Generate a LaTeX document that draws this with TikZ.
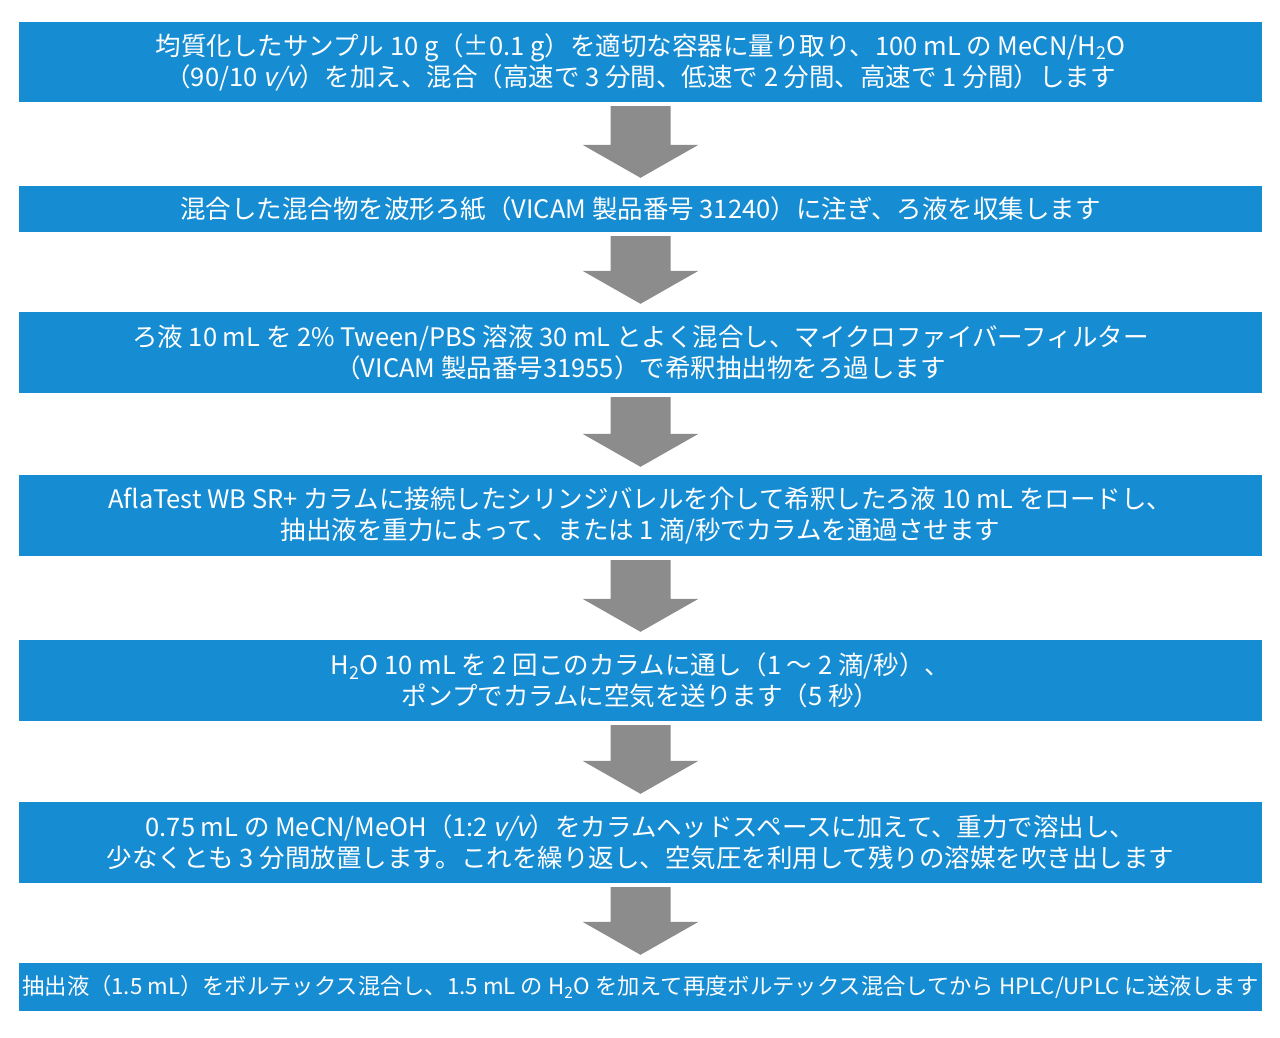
\documentclass[tikz,border=0pt]{standalone}
\usepackage{fontspec}
\setmainfont{Noto Sans CJK JP}
\newfontfamily\ital[FakeSlant=0.2]{Noto Sans CJK JP}
\usetikzlibrary{calc}
\definecolor{boxblue}{RGB}{22,140,210}
\definecolor{arrgray}{RGB}{140,140,140}
\tikzset{
  stepbox/.style={fill=boxblue,text=white,minimum width=1243pt,inner sep=0pt,align=center,font=\fontsize{25.5pt}{31pt}\selectfont},
  grayarrow/.style={fill=arrgray}
}
\newcommand{\vv}{{\ital v/v}}
\newcommand{\arr}[2]{\path[grayarrow] ($(#1.south)+(-30pt,-4pt)$) -- ($(#1.south)+(30pt,-4pt)$) -- ($(#2.north)+(30pt,41pt)$) -- ($(#2.north)+(58pt,41pt)$) -- ($(#2.north)+(0pt,8pt)$) -- ($(#2.north)+(-58pt,41pt)$) -- ($(#2.north)+(-30pt,41pt)$) -- cycle;}
\begin{document}
\begin{tikzpicture}[x=1pt,y=1pt]
\useasboundingbox[fill=white] (0,0) rectangle (1280,-1038);
\node[stepbox,minimum height=80pt] (b1) at (640.5,-62) {均質化したサンプル 10 g（±0.1 g）を適切な容器に量り取り、100 mL の MeCN/H\textsubscript{2}O\\（90/10 \vv）を加え、混合（高速で 3 分間、低速で 2 分間、高速で 1 分間）します};
\node[stepbox,minimum height=46pt] (b2) at (640.5,-209) {混合した混合物を波形ろ紙（VICAM 製品番号 31240）に注ぎ、ろ液を収集します};
\node[stepbox,minimum height=81pt] (b3) at (640.5,-352.5) {ろ液 10 mL を 2\% Tween/PBS 溶液 30 mL とよく混合し、マイクロファイバーフィルター\\（VICAM 製品番号31955）で希釈抽出物をろ過します};
\node[stepbox,minimum height=81pt] (b4) at (640.5,-515.5) {AflaTest WB SR+ カラムに接続したシリンジバレルを介して希釈したろ液 10 mL をロードし、\\抽出液を重力によって、または 1 滴/秒でカラムを通過させます};
\node[stepbox,minimum height=81pt] (b5) at (640.5,-680.5) {H\textsubscript{2}O 10 mL を 2 回このカラムに通し（1 ～ 2 滴/秒）、\\ポンプでカラムに空気を送ります（5 秒）};
\node[stepbox,minimum height=81pt] (b6) at (640.5,-842.5) {0.75 mL の MeCN/MeOH（1:2 \vv）をカラムヘッドスペースに加えて、重力で溶出し、\\少なくとも 3 分間放置します。これを繰り返し、空気圧を利用して残りの溶媒を吹き出します};
\node[stepbox,minimum height=48pt,font=\fontsize{22.3pt}{28pt}\selectfont] (b7) at (640.5,-987) {抽出液（1.5 mL）をボルテックス混合し、1.5 mL の H\textsubscript{2}O を加えて再度ボルテックス混合してから HPLC/UPLC に送液します};
\arr{b1}{b2}\arr{b2}{b3}\arr{b3}{b4}\arr{b4}{b5}\arr{b5}{b6}\arr{b6}{b7}
\end{tikzpicture}
\end{document}
